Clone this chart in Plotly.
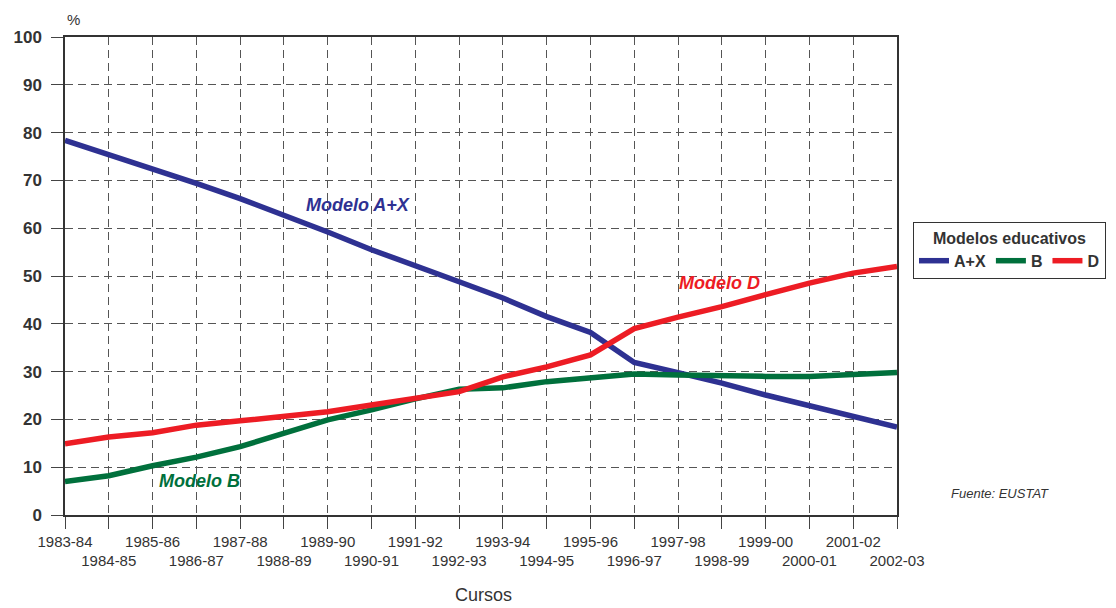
import plotly.graph_objects as go

# School years (cursos)
cursos = ["1983-84", "1984-85", "1985-86", "1986-87", "1987-88", "1988-89",
          "1989-90", "1990-91", "1991-92", "1992-93", "1993-94", "1994-95",
          "1995-96", "1996-97", "1997-98", "1998-99", "1999-00", "2000-01",
          "2001-02", "2002-03"]

# Share of pupils by educational model (%)
modelo_ax = [78.4, 75.5, 72.6, 69.4, 66.2, 62.8, 59.2, 55.5, 52.0, 48.8,
             45.4, 41.5, 38.2, 31.9, 29.8, 27.6, 25.1, 22.8, 20.5, 18.4]
modelo_b = [7.0, 8.2, 10.3, 12.1, 14.3, 17.0, 19.9, 22.0, 24.3, 26.3,
            26.6, 27.9, 28.6, 29.5, 29.3, 29.1, 29.0, 29.0, 29.3, 29.8]
modelo_d = [14.9, 16.3, 17.2, 18.8, 19.7, 20.7, 21.6, 23.0, 24.3, 25.8,
            28.9, 31.0, 33.5, 39.0, 41.4, 43.6, 46.1, 48.5, 50.6, 52.0]

y_ticks = list(range(0, 101, 10))

BLUE = "#2E3192"
GREEN = "#00703C"
RED = "#ED1C24"
TXT = "#333333"
FONT = "Liberation Sans, Arial, sans-serif"

# Plot area in pixels
L, R, T, B = 65, 897, 37, 515
W, H = 1116, 608


def px_x(px):
    return (px - L) / (R - L)


def px_y(py):
    return (B - py) / (B - T)


# Alternate tick labels on two rows
tick_text = [c if i % 2 == 0 else "<br>" + c for i, c in enumerate(cursos)]

fig = go.Figure()
for name, vals, col in [("A+X", modelo_ax, BLUE), ("B", modelo_b, GREEN), ("D", modelo_d, RED)]:
    fig.add_trace(go.Scatter(
        x=list(range(len(cursos))), y=vals, name=name, mode="lines",
        line=dict(color=col, width=5.5),
    ))

grid_dash = "8px,5px"
fig.update_layout(
    width=W, height=H,
    margin=dict(l=L, r=W - R, t=T, b=H - B, autoexpand=False),
    paper_bgcolor="white", plot_bgcolor="white",
    font=dict(family=FONT, color=TXT),
    showlegend=True,
    legend=dict(
        title=dict(text="Modelos educativos", side="top center",
                   font=dict(size=16, color=TXT, weight="bold")),
        orientation="h", x=px_x(913), xanchor="left",
        y=px_y(222), yanchor="top",
        font=dict(size=16, color=TXT, family=FONT, weight="bold"),
        bordercolor=TXT, borderwidth=1, bgcolor="white",
        itemwidth=30, tracegroupgap=0,
    ),
    xaxis=dict(
        range=[0, 19], tickmode="array", automargin=False,
        tickvals=list(range(len(cursos))), ticktext=tick_text, tickangle=0,
        tickfont=dict(size=15, color=TXT),
        ticks="outside", ticklen=12, tickcolor="#444444",
        showline=True, linecolor=TXT, linewidth=1.5, mirror=True,
        showgrid=True, gridcolor="#555555", griddash=grid_dash, gridwidth=1,
        zeroline=False,
    ),
    yaxis=dict(
        range=[0, 100], tickmode="array", tickvals=y_ticks, automargin=False,
        ticktext=[f"<b>{v}</b>" for v in y_ticks],
        tickfont=dict(size=17, color=TXT), ticklabelstandoff=6,
        ticks="outside", ticklen=12, tickcolor="#444444",
        showline=True, linecolor=TXT, linewidth=1.5, mirror=True,
        showgrid=True, gridcolor="#555555", griddash=grid_dash, gridwidth=1,
        zeroline=False,
    ),
)

annots = [
    dict(x=6.68, y=64.9, text="<b><i>Modelo A+X</i></b>", color=BLUE),
    dict(x=14.95, y=48.6, text="<b><i>Modelo D</i></b>", color=RED),
    dict(x=3.07, y=7.1, text="<b><i>Modelo B</i></b>", color=GREEN),
]
for a in annots:
    fig.add_annotation(x=a["x"], y=a["y"], xref="x", yref="y", text=a["text"],
                       showarrow=False, font=dict(size=18, color=a["color"], family=FONT))

fig.add_annotation(x=px_x(73), y=px_y(20), xref="paper", yref="paper",
                   text="%", showarrow=False, font=dict(size=15, color=TXT),
                   xanchor="center", yanchor="middle")
fig.add_annotation(x=px_x(1000), y=px_y(493), xref="paper", yref="paper",
                   text="<i>Fuente: EUSTAT</i>", showarrow=False,
                   font=dict(size=13, color=TXT), xanchor="center", yanchor="middle")
fig.add_annotation(x=px_x(483), y=px_y(595), xref="paper", yref="paper",
                   text="Cursos", showarrow=False,
                   font=dict(size=18, color=TXT), xanchor="center", yanchor="middle")

fig.write_html("out.html")
